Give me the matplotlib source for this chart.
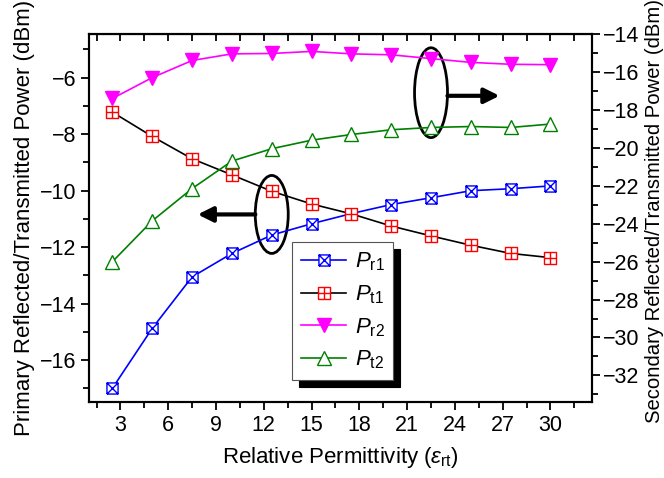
import matplotlib
matplotlib.use("Agg")
import matplotlib.pyplot as plt
from matplotlib.path import Path
from matplotlib.patches import Ellipse, Shadow
from matplotlib.ticker import MultipleLocator

plt.rcParams['font.family'] = ['Liberation Sans', 'DejaVu Sans']
plt.rcParams['mathtext.fontset'] = 'custom'
plt.rcParams['mathtext.rm'] = 'Liberation Sans'
plt.rcParams['mathtext.it'] = 'Liberation Sans:italic'

eps = [2.5, 5, 7.5, 10, 12.5, 15, 17.5, 20, 22.5, 25, 27.5, 30]
pr1 = [-16.99, -14.87, -13.05, -12.22, -11.57, -11.17, -10.81, -10.49, -10.25, -10.0, -9.93, -9.83]
pt1 = [-7.22, -8.08, -8.87, -9.44, -10.02, -10.47, -10.82, -11.25, -11.6, -11.93, -12.22, -12.37]
pr2 = [-17.4, -16.3, -15.4, -15.05, -15.03, -14.92, -15.05, -15.1, -15.3, -15.5, -15.6, -15.62]
pt2 = [-26.0, -23.85, -22.15, -20.7, -20.05, -19.6, -19.3, -19.05, -18.93, -18.88, -18.93, -18.75]

M, L = Path.MOVETO, Path.LINETO
sq = [(-1, -1), (1, -1), (1, 1), (-1, 1), (-1, -1)]
box_x = Path(sq + [(-1, -1), (1, 1), (-1, 1), (1, -1)],
             [M, L, L, L, L, M, L, M, L])
box_plus = Path(sq + [(0, -1), (0, 1), (-1, 0), (1, 0)],
                [M, L, L, L, L, M, L, M, L])

fig = plt.figure(figsize=(6.64, 4.78), dpi=100)
ax = fig.add_axes([0.1334, 0.159, 0.758, 0.77])
ax2 = ax.twinx()

l1, = ax.plot(eps, pr1, '-', color='#0000ff', lw=1.2, marker=box_x, ms=8,
              mfc='white', mec='#0000ff', mew=1.0, label=r'$\it{P}_{\rm r1}$')
l2, = ax.plot(eps, pt1, '-', color='black', lw=1.2, marker=box_plus, ms=8,
              mfc='white', mec='#ff0000', mew=1.0, label=r'$\it{P}_{\rm t1}$')
l3, = ax2.plot(eps, pr2, '-', color='#ff00ff', lw=1.2, marker='v', ms=10,
               mfc='#ff00ff', mec='#ff00ff', label=r'$\it{P}_{\rm r2}$')
l4, = ax2.plot(eps, pt2, '-', color='#008000', lw=1.2, marker='^', ms=10,
               mfc='white', mec='#008000', mew=1.0, label=r'$\it{P}_{\rm t2}$')

ax.set_xlim(1, 32.6)
ax.set_ylim(-17.48, -4.45)
ax2.set_ylim(-33.4, -14)

ax.xaxis.set_major_locator(MultipleLocator(3))
ax.xaxis.set_minor_locator(MultipleLocator(1.5))
ax.yaxis.set_major_locator(MultipleLocator(2))
ax.yaxis.set_minor_locator(MultipleLocator(1))
ax2.yaxis.set_major_locator(MultipleLocator(2))
ax2.yaxis.set_minor_locator(MultipleLocator(1))

for a in (ax, ax2):
    for s in a.spines.values():
        s.set_linewidth(1.5)
ax.tick_params(axis='x', which='both', direction='out', top=False, labelsize=15.5, width=1.3)
ax.tick_params(axis='x', which='major', length=6)
ax.tick_params(axis='x', which='minor', length=4)
ax.tick_params(axis='y', which='major', direction='out', length=6, width=1.3, labelsize=15.5, pad=3)
ax.tick_params(axis='y', which='minor', direction='out', length=4, width=1.3)
ax2.tick_params(axis='y', which='major', direction='out', length=6, width=1.3, labelsize=15.5, pad=2)
ax2.tick_params(axis='y', which='minor', direction='out', length=4, width=1.3)

# top inward ticks
top = ax.secondary_xaxis('top')
top.xaxis.set_major_locator(MultipleLocator(1.5))
top.tick_params(direction='in', length=5, width=1.3, labeltop=False)

ax.set_xlabel(r'Relative Permittivity ($\it{ε}_{\rm rt}$)', fontsize=16, labelpad=6)
ax.set_ylabel('Primary Reflected/Transmitted Power (dBm)', fontsize=16, labelpad=3)
ax2.set_ylabel('Secondary Reflected/Transmitted Power (dBm)', fontsize=14.6, labelpad=1)
ax2.yaxis.set_label_coords(1.105, 0.52)

# ellipses and arrows
ax.add_patch(Ellipse((12.5, -10.84), 2.07, 2.76, fill=False, lw=2, ec='black'))
ax.annotate('', xy=(7.85, -10.84), xytext=(11.47, -10.84),
            arrowprops=dict(arrowstyle='-|>,head_length=0.9,head_width=0.45',
                            lw=3, color='black', shrinkA=0, shrinkB=0))
ax.add_patch(Ellipse((22.5, -6.53), 2.07, 3.18, fill=False, lw=2, ec='black'))
ax.annotate('', xy=(26.8, -6.64), xytext=(23.53, -6.64),
            arrowprops=dict(arrowstyle='-|>,head_length=0.9,head_width=0.45',
                            lw=3, color='black', shrinkA=0, shrinkB=0))

leg = ax2.legend(handles=[l1, l2, l3, l4], loc='upper left',
                 bbox_to_anchor=(0.405, 0.435), borderaxespad=0,
                 fontsize=16, fancybox=False, framealpha=1,
                 edgecolor='#555555', handlelength=2.0, labelspacing=0.45,
                 handletextpad=0.4, borderpad=0.4)
leg.get_frame().set_linewidth(0.8)
sh = Shadow(leg.legendPatch, 5, -5, color='black', alpha=1)
sh.set_zorder(leg.get_zorder() - 0.1)
ax2.add_artist(sh)

fig.canvas.draw()
fig.savefig('out.png', dpi=100)
